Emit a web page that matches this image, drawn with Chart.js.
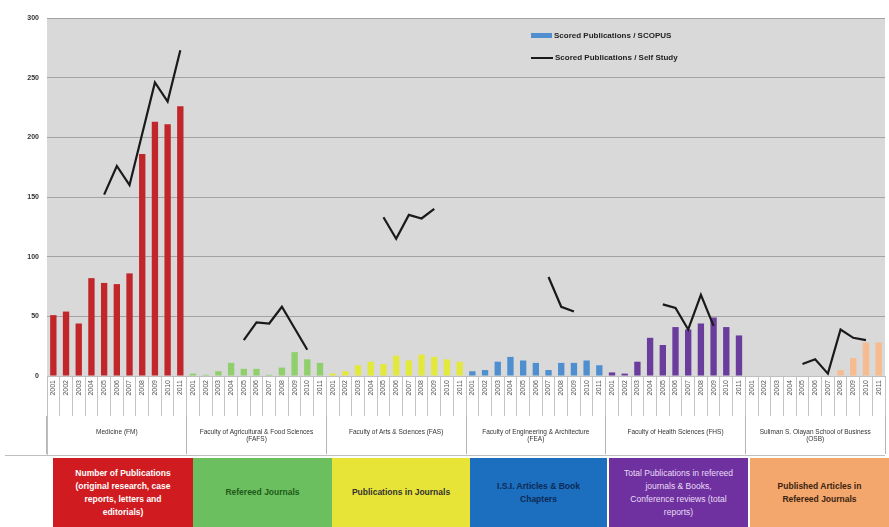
<!DOCTYPE html>
<html>
<head>
<meta charset="utf-8">
<script src="https://cdn.jsdelivr.net/npm/chart.js@4.4.1/dist/chart.umd.min.js"></script>
<style>
  body { margin: 0; background: #fff; font-family: "Liberation Sans", Arial, sans-serif; }
  #wrap { position: relative; width: 889px; height: 527px; overflow: hidden; }
  #chart { position: absolute; left: 0; top: 0; }
  .legend { position: absolute; left: 531px; font-size: 8px; font-weight: bold; color: #222; }
  .legend span { display: inline-block; vertical-align: middle; margin-right: 2px; }
  .box { position: absolute; top: 458px; height: 69px; display: flex; align-items: center;
         justify-content: center; text-align: center; font-size: 8.5px; font-weight: bold; line-height: 13px; }
</style>
</head>
<body>
<div id="wrap">
  <canvas id="chart" width="889" height="458"></canvas>
  <div class="legend" style="top:31px"><span style="width:21px;height:5px;background:#4f8fd0"></span>Scored Publications / SCOPUS</div>
  <div class="legend" style="top:53px"><span style="width:22px;height:2px;background:#1a1a1a"></span>Scored Publications / Self Study</div>

  <div class="box" style="left:53px;width:140px;background:#d01c21;color:#fff">Number of Publications<br>(original research, case<br>reports, letters and<br>editorials)</div>
  <div class="box" style="left:193px;width:139px;background:#6cbf5f;color:#1d5a1a">Refereed Journals</div>
  <div class="box" style="left:332px;width:138px;background:#e8e437;color:#333">Publications in Journals</div>
  <div class="box" style="left:470px;width:137px;background:#1c6ebf;color:#0d2a55">I.S.I. Articles &amp; Book<br>Chapters</div>
  <div class="box" style="left:609px;width:139px;background:#7031a0;color:#e8dcf5;font-weight:normal">Total Publications in refereed<br>journals &amp; Books,<br>Conference reviews (total<br>reports)</div>
  <div class="box" style="left:750px;width:139px;background:#f4a76d;color:#3a2410">Published Articles in<br>Refereed Journals</div>
</div>
<script>
// Years shown under every faculty
const years = ['2001', '2002', '2003', '2004', '2005', '2006', '2007', '2008', '2009', '2010', '2011'];

// Faculty labels (second axis row)
const faculties = [
    'Medicine (FM)',
    ['Faculty of Agricultural & Food Sciences', '(FAFS)'],
    'Faculty of Arts & Sciences (FAS)',
    ['Faculty of Engineering & Architecture', '(FEA)'],
    'Faculty of Health Sciences (FHS)',
    ['Suliman S. Olayan School of Business', '(OSB)']
];

// Bar colour for each faculty
const facultyColors = ['#c1262b', '#8fd06c', '#e2e83c', '#4f8fd0', '#6a3d9c', '#f6bb8e'];

// Scored publications / SCOPUS (bars)
const fmBars   = [51, 54, 44, 82, 78, 77, 86, 186, 213, 211, 226];
const fafsBars = [2, 1, 4, 11, 6, 6, 1, 7, 20, 14, 11];
const fasBars  = [2, 4, 9, 12, 10, 17, 13, 18, 16, 14, 12];
const feaBars  = [4, 5, 12, 16, 13, 11, 5, 11, 11, 13, 9];
const fhsBars  = [3, 2, 12, 32, 26, 41, 39, 44, 49, 41, 34];
const osbBars  = [0, 0, 0, 0, 0, 0, 0, 5, 15, 28, 28];

// Scored publications / Self Study (line)
const fmLine   = [null, null, null, null, 152, 176, 160, 203, 246, 230, 273];
const fafsLine = [null, null, null, null, 30, 45, 44, 58, 40, 22, null];
const fasLine  = [null, null, null, null, 133, 115, 135, 132, 140, null, null];
const feaLine  = [null, null, null, null, null, null, 83, 58, 54, null, null];
const fhsLine  = [null, null, null, null, 60, 57, 39, 68, 42, null, null];
const osbLine  = [null, null, null, null, 10, 14, 2, 39, 32, 30, null];

const yTicks = [0, 50, 100, 150, 200, 250, 300];

const barGroups = [fmBars, fafsBars, fasBars, feaBars, fhsBars, osbBars];
const lineGroups = [fmLine, fafsLine, fasLine, feaLine, fhsLine, osbLine];

const labels = [];
const barColors = [];
barGroups.forEach((g, i) => {
    years.forEach(y => {
        labels.push(y);
        barColors.push(facultyColors[i]);
    });
});
const barData = [].concat(...barGroups);
const lineData = [].concat(...lineGroups);

// grey plot background + outer lines of the axis table
const plotBackground = {
    id: 'plotBackground',
    beforeDraw(chart) {
        const { ctx, chartArea } = chart;
        ctx.save();
        ctx.fillStyle = '#d9d9d9';
        ctx.fillRect(chartArea.left, chartArea.top, chartArea.right - chartArea.left, chartArea.bottom - chartArea.top);
        ctx.restore();
    },
    afterDraw(chart) {
        const { ctx, chartArea } = chart;
        const x2 = chart.scales.x2;
        ctx.save();
        ctx.strokeStyle = '#bfbfbf';
        ctx.lineWidth = 1;
        ctx.beginPath();
        ctx.moveTo(chartArea.left + 0.5, chartArea.bottom);
        ctx.lineTo(chartArea.left + 0.5, x2.bottom);
        ctx.moveTo(5, x2.bottom - 0.5);
        ctx.lineTo(chartArea.right, x2.bottom - 0.5);
        ctx.stroke();
        ctx.restore();
    }
};

new Chart(document.getElementById('chart'), {
    type: 'bar',
    data: {
        labels: labels,
        datasets: [
            {
                type: 'line',
                label: 'Scored Publications / Self Study',
                data: lineData,
                borderColor: '#1a1a1a',
                borderWidth: 2.2,
                tension: 0,
                pointRadius: 0,
                spanGaps: false,
                order: 1
            },
            {
                label: 'Scored Publications / SCOPUS',
                data: barData,
                backgroundColor: barColors,
                categoryPercentage: 1,
                barPercentage: 0.5,
                order: 2
            }
        ]
    },
    options: {
        responsive: false,
        animation: false,
        layout: { padding: { top: 18, right: 4, bottom: 2 } },
        plugins: {
            legend: { display: false },
            tooltip: { enabled: false }
        },
        scales: {
            y: {
                min: 0,
                max: 300,
                afterBuildTicks(scale) {
                    scale.ticks = yTicks.map(v => ({ value: v }));
                },
                afterFit(scale) { scale.width = 47; },
                border: { display: false },
                grid: { color: '#a3a3a3', drawTicks: false },
                ticks: {
                    padding: 8,
                    color: '#333',
                    font: { family: 'Liberation Sans', size: 7, weight: 'bold' }
                }
            },
            x: {
                afterFit(scale) { scale.height = 40; },
                border: { color: '#bfbfbf' },
                grid: { offset: true, drawOnChartArea: false, tickLength: 40, color: '#c4c4c4' },
                ticks: {
                    autoSkip: false,
                    minRotation: 90,
                    maxRotation: 90,
                    padding: -36,
                    color: '#555',
                    font: { family: 'Liberation Sans', size: 7 }
                }
            },
            x2: {
                type: 'category',
                labels: faculties,
                position: 'bottom',
                offset: true,
                afterFit(scale) { scale.height = 40; },
                border: { display: false },
                grid: { offset: true, drawOnChartArea: false, tickLength: 38, color: '#b5b5b5' },
                ticks: {
                    autoSkip: false,
                    maxRotation: 0,
                    padding: -26,
                    color: '#333',
                    font: { family: 'Liberation Sans', size: 6.5 }
                }
            }
        }
    },
    plugins: [plotBackground]
});
</script>
</body>
</html>
